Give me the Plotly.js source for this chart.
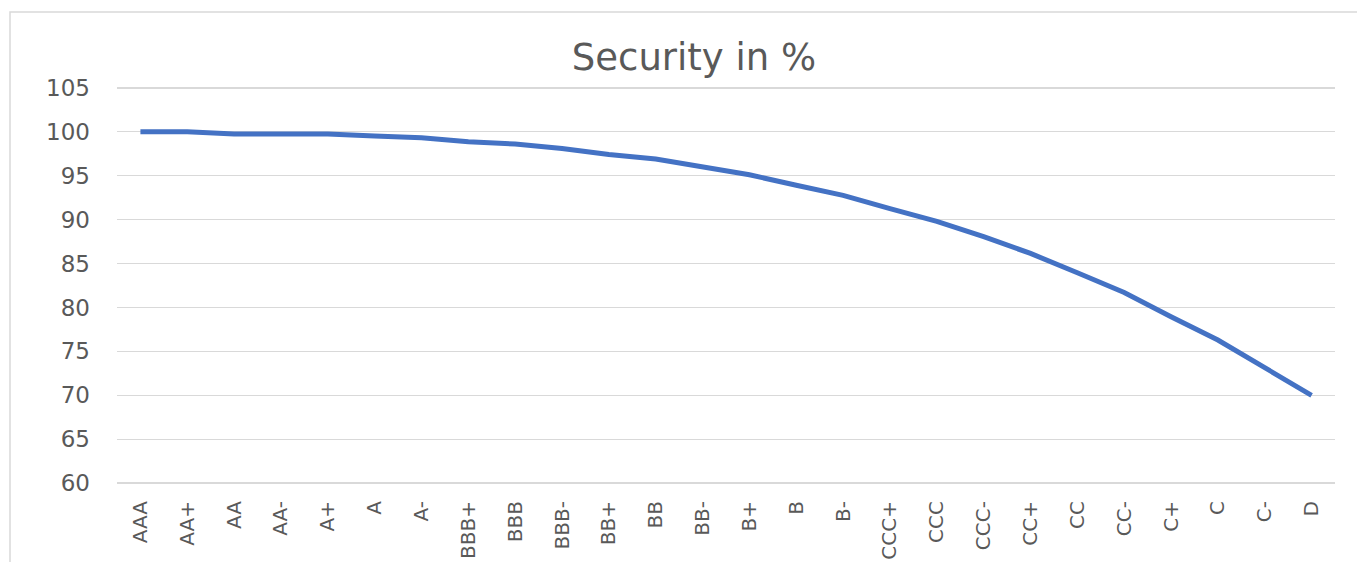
<!DOCTYPE html>
<html>
<head>
<meta charset="utf-8">
<script src="https://cdn.plot.ly/plotly-3.0.1.min.js"></script>
<style>
  html, body { margin: 0; padding: 0; background: #ffffff; }
  #chart { width: 1357px; height: 562px; }
</style>
</head>
<body>
<div id="chart"></div>
<script>
const ratings = ["AAA", "AA+", "AA", "AA-", "A+", "A", "A-", "BBB+", "BBB", "BBB-",
                 "BB+", "BB", "BB-", "B+", "B", "B-", "CCC+", "CCC", "CCC-", "CC+",
                 "CC", "CC-", "C+", "C", "C-", "D"];
const securityPct = [100, 100, 99.75, 99.75, 99.75, 99.5, 99.3, 98.85, 98.6, 98.1,
                     97.4, 96.9, 96.0, 95.1, 93.9, 92.75, 91.25, 89.8, 88.05, 86.15,
                     83.95, 81.7, 78.95, 76.3, 73.15, 70];
const yTicks = [60, 65, 70, 75, 80, 85, 90, 95, 100, 105];
const chartTitle = "Security in %";

const textColor = "#595959";
const gridColor = "#D9D9D9";
const fontFamily = "DejaVu Sans, Open Sans, sans-serif";

const plotTop = 86, plotBottom = 485, plotLeft = 117, plotRight = 1335;
const plotH = plotBottom - plotTop, plotW = plotRight - plotLeft;

const trace = {
  type: "scatter",
  mode: "lines",
  x: ratings,
  y: securityPct,
  line: { color: "#4472C4", width: 5 },
  hoverinfo: "x+y"
};

const layout = {
  width: 1357,
  height: 562,
  margin: { l: plotLeft, r: 1357 - plotRight, t: plotTop, b: 562 - plotBottom },
  paper_bgcolor: "#ffffff",
  plot_bgcolor: "#ffffff",
  showlegend: false,
  title: {
    text: chartTitle,
    font: { family: fontFamily, size: 37, color: textColor },
    x: 694 / 1357,
    xref: "container",
    xanchor: "center",
    y: 1 - 57 / 562,
    yref: "container",
    yanchor: "middle"
  },
  xaxis: {
    type: "category",
    range: [-0.5, ratings.length - 0.5],
    tickangle: -90,
    tickfont: { family: fontFamily, size: 20, color: textColor },
    showgrid: false,
    zeroline: false,
    showline: false,
    ticks: "",
    ticklabelstandoff: 11,
    fixedrange: true
  },
  yaxis: {
    range: [59.8, 105.2],
    tickvals: yTicks,
    ticktext: yTicks.map(String),
    tickfont: { family: fontFamily, size: 23, color: textColor },
    showgrid: true,
    gridcolor: gridColor,
    gridwidth: 1.5,
    zeroline: false,
    showline: false,
    ticks: "",
    ticklabelstandoff: 26,
    fixedrange: true
  },
  shapes: [{
    type: "rect",
    xref: "paper",
    yref: "paper",
    x0: (10 - plotLeft) / plotW,
    x1: (1400 - plotLeft) / plotW,
    y0: (plotBottom - 620) / plotH,
    y1: (plotBottom - 12) / plotH,
    line: { color: gridColor, width: 1.5 },
    fillcolor: "rgba(0,0,0,0)",
    layer: "below"
  }]
};

Plotly.newPlot("chart", [trace], layout, { displayModeBar: false, staticPlot: true });
</script>
</body>
</html>
